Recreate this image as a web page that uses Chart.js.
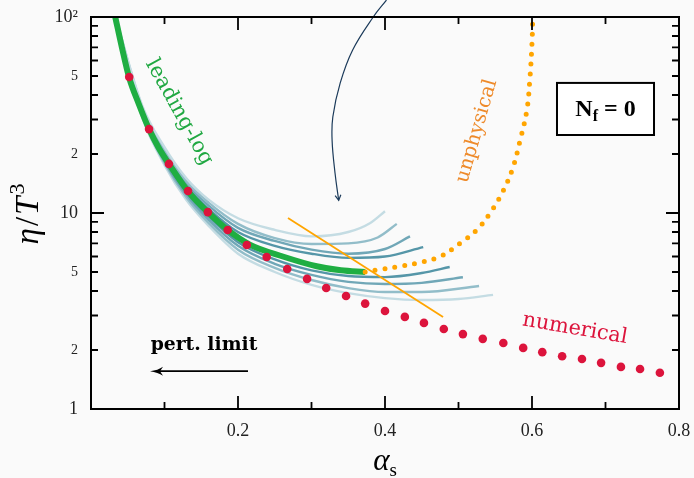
<!DOCTYPE html>
<html>
<head>
<meta charset="utf-8">
<script src="https://cdn.jsdelivr.net/npm/chart.js@4.4.1/dist/chart.umd.min.js"></script>
<style>
  html, body { margin: 0; padding: 0; background: #fafafa; }
</style>
</head>
<body>
<canvas id="chart" width="694" height="478"></canvas>
<script>
// numerical result (red dots)
const numAlpha = [0.052, 0.079, 0.106, 0.132, 0.159, 0.186, 0.212, 0.239, 0.267, 0.294,
  0.32, 0.347, 0.373, 0.4, 0.427, 0.453, 0.48, 0.506, 0.533, 0.561,
  0.588, 0.614, 0.641, 0.668, 0.694, 0.721, 0.747, 0.774];
const numEta = [49.4, 26.8, 17.8, 12.95, 10.1, 8.19, 6.87, 5.96, 5.18, 4.61,
  4.14, 3.77, 3.45, 3.16, 2.95, 2.75, 2.56, 2.41, 2.28, 2.17,
  2.05, 1.95, 1.86, 1.8, 1.72, 1.64, 1.6, 1.53];

// leading-log (green)
const llAlpha = [0.033, 0.042, 0.052, 0.065, 0.079, 0.092, 0.106, 0.132, 0.159, 0.186, 0.216, 0.261, 0.307, 0.34, 0.373];
const llEta = [100, 70, 48.9, 36, 26.8, 21.5, 17.8, 12.9, 10.1, 8.2, 6.9, 6.0, 5.35, 5.1, 5.0];

// unphysical continuation (orange dots)
const unAlpha = [0.373, 0.397, 0.424, 0.448, 0.475, 0.502, 0.525, 0.543, 0.559, 0.573, 0.584, 0.593, 0.597, 0.6, 0.601];
const unEta = [5.0, 5.18, 5.37, 5.6, 6.0, 7.0, 8.2, 10, 12.6, 16.6, 23.6, 33.5, 47.7, 73.7, 100];

// thin orange line
const cutAlpha = [0.268, 0.479];
const cutEta = [9.43, 2.95];

// scale-variation curves (teal band), top to bottom
const band1Alpha = [0.035, 0.07, 0.1, 0.13, 0.16, 0.2, 0.25, 0.3, 0.35, 0.38, 0.4];
const band1Eta = [95, 35.1, 21.7, 15.0, 11.7, 9.4, 8.2, 7.6, 8.0, 8.9, 10.2];
const band2Alpha = [0.035, 0.07, 0.1, 0.13, 0.16, 0.2, 0.25, 0.3, 0.35, 0.39, 0.416];
const band2Eta = [94, 34.5, 21.2, 14.5, 11.3, 8.8, 7.45, 6.95, 7.0, 7.5, 8.8];
const band3Alpha = [0.035, 0.07, 0.1, 0.13, 0.16, 0.2, 0.25, 0.3, 0.35, 0.4, 0.434];
const band3Eta = [93, 33.9, 20.7, 14.1, 10.9, 8.4, 7.2, 6.5, 6.2, 6.55, 7.6];
const band4Alpha = [0.035, 0.07, 0.1, 0.13, 0.16, 0.2, 0.25, 0.3, 0.35, 0.4, 0.452];
const band4Eta = [92, 33.3, 20.2, 13.7, 10.5, 8.0, 6.8, 6.2, 5.9, 6.0, 6.7];
const band5Alpha = [0.035, 0.07, 0.1, 0.13, 0.16, 0.2, 0.25, 0.3, 0.35, 0.4, 0.45, 0.488];
const band5Eta = [91, 32.1, 18.8, 12.75, 9.6, 7.1, 5.8, 5.1, 4.77, 4.71, 4.94, 5.3];
const band6Alpha = [0.035, 0.07, 0.1, 0.13, 0.16, 0.2, 0.25, 0.3, 0.35, 0.4, 0.45, 0.506];
const band6Eta = [90, 31.6, 18.4, 12.4, 9.25, 6.8, 5.5, 4.83, 4.45, 4.34, 4.4, 4.7];
const band7Alpha = [0.035, 0.07, 0.1, 0.13, 0.16, 0.2, 0.25, 0.3, 0.35, 0.4, 0.45, 0.528];
const band7Eta = [89, 31.0, 18.0, 12.0, 8.9, 6.5, 5.25, 4.55, 4.14, 3.95, 3.95, 4.24];
const band8Alpha = [0.035, 0.07, 0.1, 0.13, 0.16, 0.2, 0.25, 0.3, 0.35, 0.4, 0.45, 0.5, 0.547];
const band8Eta = [88, 30.5, 17.55, 11.6, 8.6, 6.2, 5.0, 4.3, 3.9, 3.68, 3.6, 3.64, 3.82];

// curved pointer arrow from above the frame
const pointerAlpha = [0.402, 0.384, 0.356, 0.339, 0.329, 0.328, 0.332, 0.337];
const pointerEta = [122, 100, 67.9, 46, 30.9, 23.6, 16, 11.6];

// ticks
const xTickLabelValues = [0.2, 0.4, 0.6, 0.8];
const xTickLabels = ["0.2", "0.4", "0.6", "0.8"];
const yTickValues = [1, 2, 3, 4, 5, 6, 7, 8, 9, 10, 20, 30, 40, 50, 60, 70, 80, 90, 100];
const yTickLabelValues = [1, 2, 5, 10, 20, 50, 100];
const yTickLabels = ["1", "2", "5", "10", "2", "5", "10²"];

const SERIF = '"Liberation Serif", "DejaVu Serif", serif';
const LABEL_SERIF = '"DejaVu Serif", serif';

const pts = (xs, ys) => xs.map((v, i) => ({ x: v, y: ys[i] }));

const bandColors = ["#c4dce3", "#92bdc9", "#70a7b7", "#5596a8", "#5596a8", "#70a7b7", "#92bdc9", "#c4dce3"];
const bandSets = [
  [band1Alpha, band1Eta], [band2Alpha, band2Eta], [band3Alpha, band3Eta], [band4Alpha, band4Eta],
  [band5Alpha, band5Eta], [band6Alpha, band6Eta], [band7Alpha, band7Eta], [band8Alpha, band8Eta],
];

const bandDatasets = bandSets.map(([xs, ys], i) => ({
  data: pts(xs, ys),
  borderColor: bandColors[i],
  borderWidth: 2.4,
  pointRadius: 0,
  cubicInterpolationMode: "monotone",
  order: 10,
}));

const labelText = (v, values, texts) => {
  const i = values.findIndex((t) => Math.abs(t - v) < 1e-6);
  return i >= 0 ? texts[i] : "";
};

// drop the label overhang padding so the plot frame sits where the reference has it
const noOverhang = (s) => {
  s.paddingTop = 0; s.paddingBottom = 0; s.paddingLeft = 0; s.paddingRight = 0;
};

const P = (chart, a, e) => [chart.scales.x.getPixelForValue(a), chart.scales.y.getPixelForValue(e)];

const fitSize = (ctx, text, font, length) => {
  ctx.font = `${font.replace("SIZE", "20px")}`;
  return (20 * length) / ctx.measureText(text).width;
};

const drawRotated = (ctx, text, cx, cy, deg, length, weight, color) => {
  const base = `${weight} SIZE ${LABEL_SERIF}`;
  const size = fitSize(ctx, text, base, length);
  ctx.save();
  ctx.translate(cx, cy);
  ctx.rotate((deg * Math.PI) / 180);
  ctx.font = base.replace("SIZE", size.toFixed(1) + "px");
  ctx.fillStyle = color;
  ctx.textAlign = "center";
  ctx.textBaseline = "middle";
  ctx.fillText(text, 0, 0);
  ctx.restore();
};

const decor = {
  id: "decor",
  afterDatasetsDraw(chart) {
    const { ctx, chartArea: a, scales: { x, y } } = chart;
    ctx.save();

    // frame
    ctx.strokeStyle = "#000";
    ctx.lineWidth = 2;
    ctx.strokeRect(a.left, a.top, a.right - a.left, a.bottom - a.top);

    // inner ticks on all four sides
    ctx.lineWidth = 1.8;
    ctx.beginPath();
    x.ticks.forEach((t) => {
      const px = x.getPixelForValue(t.value);
      const len = Math.round(t.value * 10) % 2 === 0 ? 13 : 7;
      ctx.moveTo(px, a.bottom); ctx.lineTo(px, a.bottom - len);
      ctx.moveTo(px, a.top); ctx.lineTo(px, a.top + len);
    });
    y.ticks.forEach((t) => {
      const py = y.getPixelForValue(t.value);
      const len = t.value === 10 ? 13 : 7;
      ctx.moveTo(a.left, py); ctx.lineTo(a.left + len, py);
      ctx.moveTo(a.right, py); ctx.lineTo(a.right - len, py);
    });
    ctx.stroke();

    // pointer arrow head
    const n = pointerAlpha.length;
    const [hx, hy] = P(chart, pointerAlpha[n - 1], pointerEta[n - 1]);
    const [bx, by] = P(chart, pointerAlpha[n - 2], pointerEta[n - 2]);
    const ang = Math.atan2(hy - by, hx - bx);
    ctx.strokeStyle = "#1b3a5a";
    ctx.lineWidth = 1.2;
    ctx.beginPath();
    ctx.moveTo(hx - 6 * Math.cos(ang - 0.5), hy - 6 * Math.sin(ang - 0.5));
    ctx.lineTo(hx, hy);
    ctx.lineTo(hx - 6 * Math.cos(ang + 0.5), hy - 6 * Math.sin(ang + 0.5));
    ctx.stroke();

    // pert. limit arrow
    const [ax0, ay0] = P(chart, 0.2136, 1.56);
    const [ax1] = P(chart, 0.0803, 1.56);
    ctx.strokeStyle = "#000";
    ctx.fillStyle = "#000";
    ctx.lineWidth = 1.6;
    ctx.beginPath();
    ctx.moveTo(ax0, ay0); ctx.lineTo(ax1 + 6, ay0);
    ctx.stroke();
    ctx.beginPath();
    ctx.moveTo(ax1, ay0);
    ctx.quadraticCurveTo(ax1 + 8, ay0 - 1, ax1 + 13, ay0 - 4.5);
    ctx.lineTo(ax1 + 10, ay0);
    ctx.lineTo(ax1 + 13, ay0 + 4.5);
    ctx.quadraticCurveTo(ax1 + 8, ay0 + 1, ax1, ay0);
    ctx.fill();
    const [tx, ty] = P(chart, 0.1537, 2.12);
    drawRotated(ctx, "pert. limit", tx, ty, 0, 107, "bold", "#000");

    // curve labels
    const [lx, ly] = P(chart, 0.1197, 32.7);
    drawRotated(ctx, "leading-log", lx, ly, 61, 118, "normal", "#20a842");
    const [ux, uy] = P(chart, 0.525, 26.2);
    drawRotated(ctx, "unphysical", ux, uy, -74, 107, "normal", "#ee8a2a");
    const [nx, ny] = P(chart, 0.6585, 2.56);
    drawRotated(ctx, "numerical", nx, ny, 9.7, 106, "normal", "#dc143c");

    // N_f = 0 box
    const [b0x, b0y] = P(chart, 0.634, 46.1);
    const [b1x, b1y] = P(chart, 0.766, 25.0);
    ctx.fillStyle = "#fff";
    ctx.fillRect(b0x, b0y, b1x - b0x, b1y - b0y);
    ctx.strokeStyle = "#000";
    ctx.lineWidth = 2;
    ctx.strokeRect(b0x, b0y, b1x - b0x, b1y - b0y);
    ctx.fillStyle = "#000";
    ctx.textBaseline = "alphabetic";
    ctx.textAlign = "left";
    const big = `bold 24px ${SERIF}`;
    const small = `bold 16px ${SERIF}`;
    ctx.font = big; const wN = ctx.measureText("N").width;
    ctx.font = small; const wF = ctx.measureText("f").width;
    ctx.font = big; const wE = ctx.measureText(" = 0").width;
    let cx = (b0x + b1x) / 2 - (wN + wF + wE) / 2;
    const base = (b0y + b1y) / 2 + 7;
    ctx.font = big; ctx.fillText("N", cx, base); cx += wN;
    ctx.font = small; ctx.fillText("f", cx, base + 5); cx += wF;
    ctx.font = big; ctx.fillText(" = 0", cx, base);

    // axis titles
    const midX = (a.left + a.right) / 2;
    ctx.font = `italic 31px ${SERIF}`;
    const wA = ctx.measureText("α").width;
    ctx.font = `19px ${SERIF}`;
    const wS = ctx.measureText("s").width;
    const sx = midX - (wA + wS) / 2;
    ctx.font = `italic 31px ${SERIF}`;
    ctx.fillText("α", sx, 470);
    ctx.font = `19px ${SERIF}`;
    ctx.fillText("s", sx + wA, 476);

    const midY = (a.top + a.bottom) / 2;
    ctx.save();
    ctx.translate(38, midY);
    ctx.rotate(-Math.PI / 2);
    const parts = [
      ["η", `italic 33px ${SERIF}`, 0],
      ["/", `33px ${SERIF}`, 0],
      ["T", `italic 33px ${SERIF}`, 0],
      ["3", `22px ${SERIF}`, -14],
    ];
    const widths = parts.map(([t, f]) => { ctx.font = f; return ctx.measureText(t).width + 2; });
    let px = -widths.reduce((s, w) => s + w, 0) / 2;
    parts.forEach(([t, f, dy], i) => {
      ctx.font = f;
      ctx.fillText(t, px, dy);
      px += widths[i];
    });
    ctx.restore();

    ctx.restore();
  },
};

new Chart(document.getElementById("chart"), {
  type: "line",
  data: {
    datasets: [
      {
        data: pts(numAlpha, numEta),
        showLine: false,
        pointRadius: 4.3,
        pointBackgroundColor: "#dc143c",
        pointBorderWidth: 0,
        order: 0,
      },
      {
        data: pts(cutAlpha, cutEta),
        borderColor: "#ffa500",
        borderWidth: 1.8,
        pointRadius: 0,
        order: 1,
      },
      {
        data: pts(unAlpha, unEta),
        borderColor: "#ffa500",
        borderWidth: 5,
        borderDash: [0, 10],
        borderCapStyle: "round",
        pointRadius: 0,
        tension: 0.4,
        order: 2,
      },
      {
        data: pts(llAlpha, llEta),
        borderColor: "#1fae42",
        borderWidth: 6,
        pointRadius: 0,
        cubicInterpolationMode: "monotone",
        order: 3,
      },
      ...bandDatasets,
      {
        data: pts(pointerAlpha, pointerEta),
        borderColor: "#1b3a5a",
        borderWidth: 1.2,
        pointRadius: 0,
        tension: 0.4,
        clip: false,
        order: 4,
      },
    ],
  },
  options: {
    responsive: false,
    animation: false,
    layout: { padding: { top: 17, right: 15, left: 0, bottom: 0 } },
    plugins: { legend: { display: false }, tooltip: { enabled: false } },
    scales: {
      x: {
        type: "linear",
        min: 0,
        max: 0.8,
        afterFit: (s) => { s.height = 69; noOverhang(s); },
        grid: { display: false, drawTicks: false },
        border: { display: false },
        ticks: {
          stepSize: 0.1,
          autoSkip: false,
          maxRotation: 0,
          padding: 11,
          color: "#222",
          font: { family: SERIF, size: 18 },
          callback: (v) => labelText(v, xTickLabelValues, xTickLabels),
        },
      },
      y: {
        type: "logarithmic",
        min: 1,
        max: 100,
        afterFit: (s) => { s.width = 91; noOverhang(s); },
        afterBuildTicks: (s) => { s.ticks = yTickValues.map((v) => ({ value: v })); },
        grid: { display: false, drawTicks: false },
        border: { display: false },
        ticks: {
          autoSkip: false,
          padding: 13,
          color: "#222",
          font: (c) => ({ family: SERIF, size: [1, 10, 100].includes(c.tick && c.tick.value) ? 18 : 14 }),
          callback: (v) => labelText(v, yTickLabelValues, yTickLabels),
        },
      },
    },
  },
  plugins: [decor],
});
</script>
</body>
</html>
